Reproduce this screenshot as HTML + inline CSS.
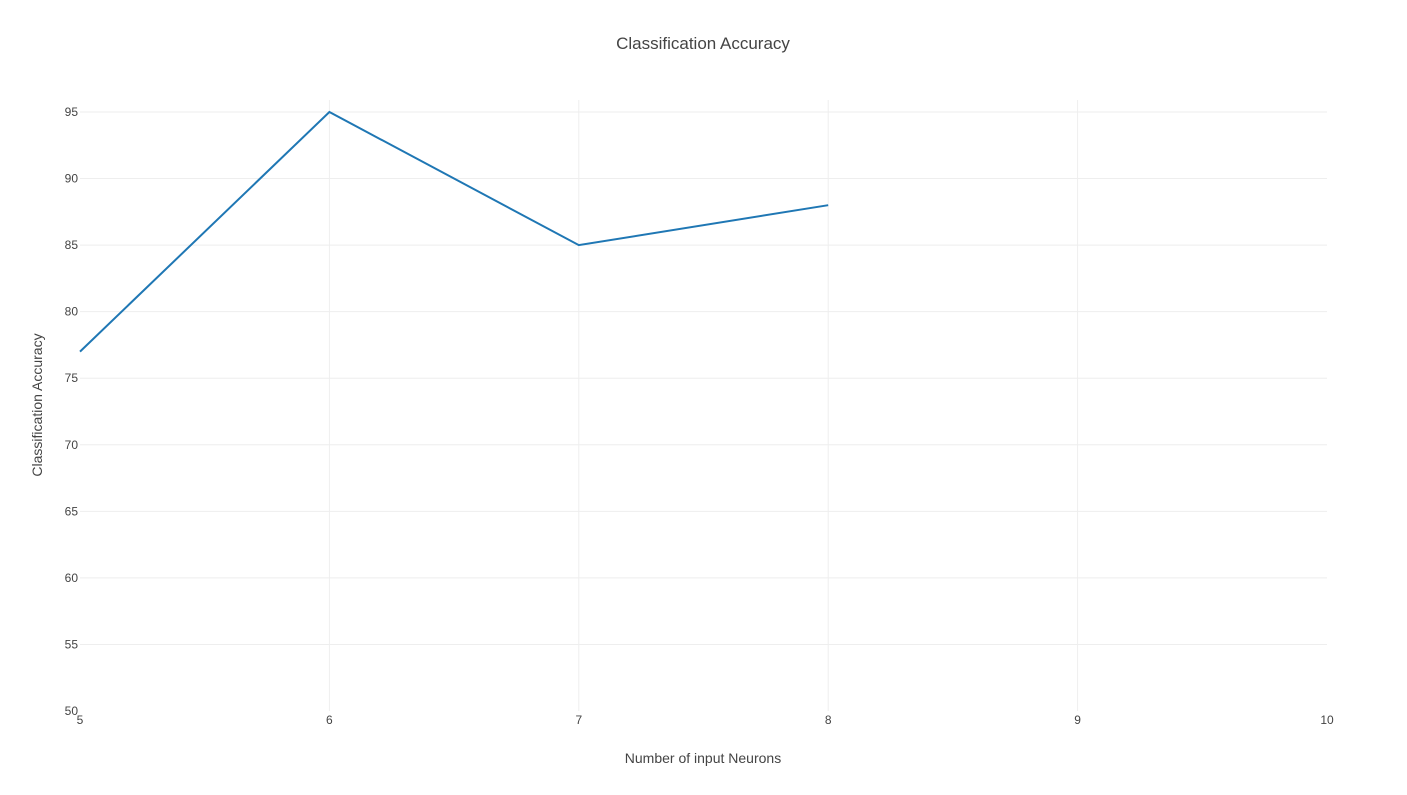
<!DOCTYPE html>
<html><head><meta charset="utf-8"><style>
body{margin:0;background:#fff;font-family:"Liberation Sans",sans-serif;}
svg text{font-family:"Liberation Sans",sans-serif;fill:#444;}
</style></head><body>
<svg id="chart" width="1407" height="790" xmlns="http://www.w3.org/2000/svg">
<text x="703" y="49" text-anchor="middle" font-size="17">Classification Accuracy</text>
<g id="grid"></g>
<g id="ticks"></g>
<path id="line" fill="none" stroke="#1f77b4" stroke-width="2"/>
<text x="703" y="763" text-anchor="middle" font-size="14">Number of input Neurons</text>
<text transform="translate(42,405) rotate(-90)" text-anchor="middle" font-size="14">Classification Accuracy</text>
</svg>
<script>
const xCats=[5,6,7,8];
const yVals=[77,95,85,88];
const xTicks=[5,6,7,8,9,10];
const yTicks=[50,55,60,65,70,75,80,85,90,95];
const L=80,R=1327,B=711,T=100;
const xMin=5,xMax=10,yMin=50,yMax=95+(112-100)/(599/45);
const sx=v=>L+(v-xMin)/(xMax-xMin)*(R-L);
const sy=v=>B-(v-yMin)/(yMax-yMin)*(B-T);
const ns="http://www.w3.org/2000/svg";
const g=document.getElementById('grid'),tk=document.getElementById('ticks');
yTicks.forEach(v=>{
 if(v!==yMin){
 const l=document.createElementNS(ns,'line');
 
 
 l.setAttribute('x1',L);l.setAttribute('x2',R);l.setAttribute('y1',sy(v));l.setAttribute('y2',sy(v));
 l.setAttribute('stroke','#eee');g.appendChild(l);
 }
 const t=document.createElementNS(ns,'text');
 
 
 t.setAttribute('x',L-2);t.setAttribute('y',sy(v)+4);t.setAttribute('text-anchor','end');t.setAttribute('font-size','12');
 t.textContent=v;tk.appendChild(t);
});
xTicks.forEach(v=>{
 if(v!==xMin&&v!==xMax){
 const l=document.createElementNS(ns,'line');
 
 
 l.setAttribute('x1',sx(v));l.setAttribute('x2',sx(v));l.setAttribute('y1',T);l.setAttribute('y2',B);
 l.setAttribute('stroke','#eee');g.appendChild(l);
 }
 const t=document.createElementNS(ns,'text');
 
 
 t.setAttribute('x',sx(v));t.setAttribute('y',B+13);t.setAttribute('text-anchor','middle');t.setAttribute('font-size','12');
 t.textContent=v;tk.appendChild(t);
});
document.getElementById('line').setAttribute('d',xCats.map((x,i)=>(i?'L':'M')+sx(x)+','+sy(yVals[i])).join(''));
</script>
</body></html>
